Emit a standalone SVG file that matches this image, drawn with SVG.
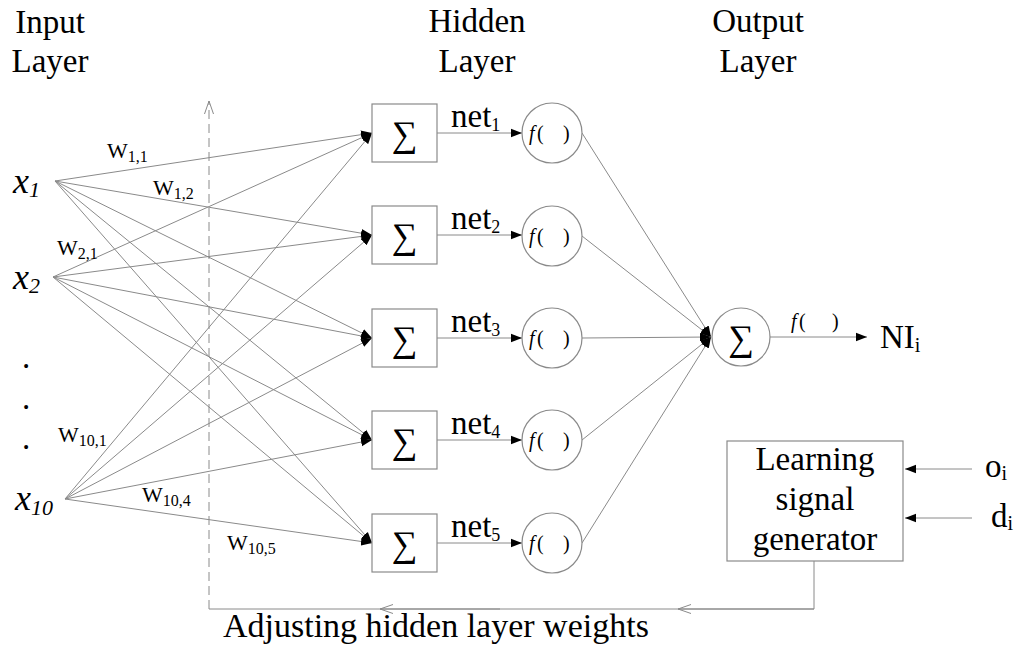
<svg xmlns="http://www.w3.org/2000/svg" width="1021" height="650" viewBox="0 0 1021 650">
<style>
text{font-family:"Liberation Serif","Times New Roman",serif;fill:#000}
.t{font-size:33px}
.cap{font-size:34px}
.w{font-size:22px}
.sub{font-size:16px}
.sig{font-size:36px;text-anchor:middle}
.fn{font-size:20px}
.ln{stroke:#8a8a8a;stroke-width:1;fill:none}
.box{fill:#fff;stroke:#8a8a8a;stroke-width:1.2}
.arr{marker-end:url(#ah)}
</style>
<defs>
<marker id="ah" markerUnits="userSpaceOnUse" markerWidth="12" markerHeight="10" refX="11" refY="5" orient="auto">
<path d="M0,0.8 L11,5 L0,9.2 Z" fill="#000"/>
</marker>
<marker id="oh" markerUnits="userSpaceOnUse" markerWidth="14" markerHeight="12" refX="13" refY="6" orient="auto">
<path d="M0,1.5 L13,6 L0,10.5" fill="none" stroke="#8a8a8a" stroke-width="1"/>
</marker>
</defs>

<g id="titles">
<text class="t" x="50" y="33" text-anchor="middle">Input</text>
<text class="t" x="50" y="72" text-anchor="middle">Layer</text>
<text class="t" x="477" y="32" text-anchor="middle">Hidden</text>
<text class="t" x="477" y="72" text-anchor="middle">Layer</text>
<text class="t" x="758" y="32" text-anchor="middle">Output</text>
<text class="t" x="758" y="72" text-anchor="middle">Layer</text>
</g>

<g id="connectors">
<line class="ln arr" x1="55" y1="181" x2="372" y2="133"/>
<line class="ln arr" x1="55" y1="181" x2="372" y2="235"/>
<line class="ln arr" x1="55" y1="181" x2="372" y2="338"/>
<line class="ln arr" x1="55" y1="181" x2="372" y2="440"/>
<line class="ln arr" x1="55" y1="181" x2="372" y2="543"/>
<line class="ln arr" x1="53" y1="277" x2="372" y2="133"/>
<line class="ln arr" x1="53" y1="277" x2="372" y2="235"/>
<line class="ln arr" x1="53" y1="277" x2="372" y2="338"/>
<line class="ln arr" x1="53" y1="277" x2="372" y2="440"/>
<line class="ln arr" x1="53" y1="277" x2="372" y2="543"/>
<line class="ln arr" x1="65" y1="499" x2="372" y2="133"/>
<line class="ln arr" x1="65" y1="499" x2="372" y2="235"/>
<line class="ln arr" x1="65" y1="499" x2="372" y2="338"/>
<line class="ln arr" x1="65" y1="499" x2="372" y2="440"/>
<line class="ln arr" x1="65" y1="499" x2="372" y2="543"/>
<line class="ln arr" x1="437" y1="133" x2="522" y2="133"/>
<line class="ln arr" x1="437" y1="235" x2="522" y2="235"/>
<line class="ln arr" x1="437" y1="338" x2="522" y2="338"/>
<line class="ln arr" x1="437" y1="440" x2="522" y2="440"/>
<line class="ln arr" x1="437" y1="543" x2="522" y2="543"/>
<line class="ln arr" x1="582" y1="133" x2="711" y2="337"/>
<line class="ln arr" x1="582" y1="236" x2="711" y2="337"/>
<line class="ln arr" x1="582" y1="338" x2="711" y2="337"/>
<line class="ln arr" x1="582" y1="440" x2="711" y2="337"/>
<line class="ln arr" x1="582" y1="543" x2="711" y2="337"/>
<line class="ln arr" x1="770" y1="337" x2="867" y2="337"/>
<line class="ln arr" x1="972" y1="469" x2="905" y2="469"/>
<line class="ln arr" x1="972" y1="518" x2="905" y2="518"/>
<polyline class="ln" points="814,561 814,609 209,609"/>
<line class="ln" x1="814" y1="609" x2="678" y2="609" marker-end="url(#oh)"/>
<line class="ln" x1="500" y1="609" x2="380" y2="609" marker-end="url(#oh)"/>
<line class="ln" x1="209" y1="609" x2="209" y2="101" stroke-dasharray="9,5" marker-end="url(#oh)"/>
</g>

<g id="x1"><text x="13" y="193" font-size="36" font-style="italic">x<tspan font-size="22" dy="4">1</tspan></text></g>
<g id="x2"><text x="13" y="289" font-size="36" font-style="italic">x<tspan font-size="22" dy="4">2</tspan></text></g>
<g id="dots">
<text class="t" x="22" y="368">.</text>
<text class="t" x="22" y="409">.</text>
<text class="t" x="22" y="449">.</text>
</g>
<g id="x10"><text x="15" y="510" font-size="36" font-style="italic">x<tspan font-size="22" dy="5">10</tspan></text></g>

<g id="weights">
<text class="w" x="107" y="158">W<tspan class="sub" dy="4">1,1</tspan></text>
<text class="w" x="153" y="195">W<tspan class="sub" dy="4">1,2</tspan></text>
<text class="w" x="57" y="255">W<tspan class="sub" dy="4">2,1</tspan></text>
<text class="w" x="58" y="442">W<tspan class="sub" dy="4">10,1</tspan></text>
<text class="w" x="142" y="502">W<tspan class="sub" dy="4">10,4</tspan></text>
<text class="w" x="227" y="550">W<tspan class="sub" dy="4">10,5</tspan></text>
</g>

<g id="sum1"><rect class="box" x="372" y="104" width="65" height="58"/><text class="sig" x="404.5" y="146">∑</text></g>
<g id="sum2"><rect class="box" x="372" y="206" width="65" height="58"/><text class="sig" x="404.5" y="248">∑</text></g>
<g id="sum3"><rect class="box" x="372" y="309" width="65" height="58"/><text class="sig" x="404.5" y="351">∑</text></g>
<g id="sum4"><rect class="box" x="372" y="411" width="65" height="58"/><text class="sig" x="404.5" y="453">∑</text></g>
<g id="sum5"><rect class="box" x="372" y="514" width="65" height="58"/><text class="sig" x="404.5" y="556">∑</text></g>

<g id="nets">
<text class="t" x="451" y="127">net<tspan font-size="18" dy="4">1</tspan></text>
<text class="t" x="451" y="229">net<tspan font-size="18" dy="4">2</tspan></text>
<text class="t" x="451" y="332">net<tspan font-size="18" dy="4">3</tspan></text>
<text class="t" x="451" y="434">net<tspan font-size="18" dy="4">4</tspan></text>
<text class="t" x="451" y="537">net<tspan font-size="18" dy="4">5</tspan></text>
</g>

<g id="f1"><circle class="box" cx="552" cy="133" r="30"/><text class="fn" y="140"><tspan x="529" font-style="italic">f</tspan><tspan x="537">(</tspan><tspan x="563">)</tspan></text></g>
<g id="f2"><circle class="box" cx="552" cy="236" r="30"/><text class="fn" y="243"><tspan x="529" font-style="italic">f</tspan><tspan x="537">(</tspan><tspan x="563">)</tspan></text></g>
<g id="f3"><circle class="box" cx="552" cy="338" r="30"/><text class="fn" y="345"><tspan x="529" font-style="italic">f</tspan><tspan x="537">(</tspan><tspan x="563">)</tspan></text></g>
<g id="f4"><circle class="box" cx="552" cy="440" r="30"/><text class="fn" y="447"><tspan x="529" font-style="italic">f</tspan><tspan x="537">(</tspan><tspan x="563">)</tspan></text></g>
<g id="f5"><circle class="box" cx="552" cy="543" r="30"/><text class="fn" y="550"><tspan x="529" font-style="italic">f</tspan><tspan x="537">(</tspan><tspan x="563">)</tspan></text></g>

<g id="outsum"><circle class="box" cx="741" cy="337" r="29"/><text class="sig" x="741" y="350">∑</text></g>
<g id="outf"><text class="fn" y="328"><tspan x="791" font-style="italic">f</tspan><tspan x="799">(</tspan><tspan x="832">)</tspan></text></g>
<g id="NI"><text class="t" x="880" y="348">NI<tspan font-size="20" dy="4">i</tspan></text></g>

<g id="learning">
<rect class="box" x="727" y="441" width="176" height="120"/>
<text class="t" x="815" y="470" text-anchor="middle">Learning</text>
<text class="t" x="815" y="510" text-anchor="middle">signal</text>
<text class="t" x="815" y="550" text-anchor="middle">generator</text>
</g>
<g id="oi"><text class="t" x="985" y="477">o<tspan font-size="20" dy="3">i</tspan></text></g>
<g id="di"><text class="t" x="991" y="527">d<tspan font-size="20" dy="3">i</tspan></text></g>

<g id="caption"><text class="cap" x="223" y="637">Adjusting hidden layer weights</text></g>
</svg>
